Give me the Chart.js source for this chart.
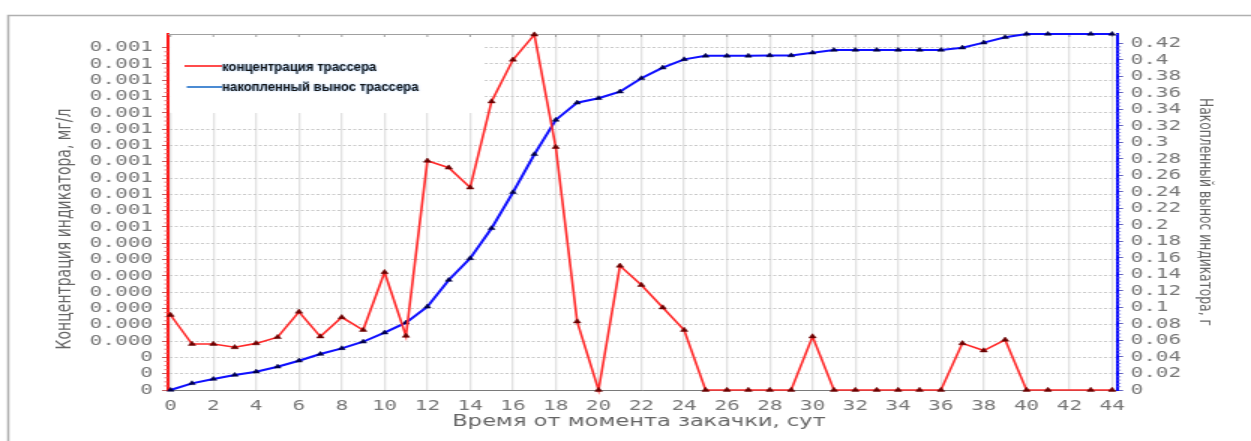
<!DOCTYPE html>
<html>
<head>
<meta charset="utf-8">
<script src="https://cdn.jsdelivr.net/npm/chart.js@4.4.1/dist/chart.umd.min.js"></script>
<style>
  html, body { margin: 0; padding: 0; background: #fff; overflow: hidden; }
  /* the picture is stretched sideways, so draw narrow and widen it */
  #wrap { width: 834px; height: 441px; transform: scaleX(1.5); transform-origin: 0 0; }
</style>
</head>
<body>
<div id="wrap"><canvas id="line-chart" width="834" height="441"></canvas></div>
<script>
// days since injection (no reading on day 42)
var days = [0,1,2,3,4,5,6,7,8,9,10,11,12,13,14,15,16,17,18,19,20,21,22,23,24,25,26,27,28,29,30,31,32,33,34,35,36,37,38,39,40,41,43,44];

// tracer concentration, mg/l
var concentration = [0.00023,0.000141,0.000141,0.000131,0.000143,0.000162,0.00024,0.000164,0.000223,0.000184,
  0.000361,0.000166,0.000703,0.000682,0.000621,0.000885,0.001013,0.00109,0.000745,0.00021,
  0,0.000381,0.000322,0.000253,0.000184,0,0,0,0,0,
  0.000164,0,0,0,0,0,0,0.000143,0.000121,0.000154,
  0,0,0,0];

// cumulative tracer removal, g
var removal = [0,0.0081,0.0133,0.0182,0.0222,0.0282,0.0355,0.0436,0.0505,0.0585,
  0.0695,0.0816,0.101,0.1333,0.1596,0.196,0.2396,0.2857,0.3273,0.3482,
  0.3536,0.3616,0.3778,0.3907,0.4008,0.405,0.405,0.405,0.4055,0.4055,
  0.4088,0.4121,0.4121,0.4121,0.4121,0.4121,0.4121,0.4149,0.421,0.4275,
  0.4315,0.4315,0.4315,0.4315];

var xTicks = [0,2,4,6,8,10,12,14,16,18,20,22,24,26,28,30,32,34,36,38,40,42,44];

var leftTickValues = [0,0.00005,0.0001,0.00015,0.0002,0.00025,0.0003,0.00035,0.0004,0.00045,0.0005,
  0.00055,0.0006,0.00065,0.0007,0.00075,0.0008,0.00085,0.0009,0.00095,0.001,0.00105];
var leftTickLabels = ['0','0','0','0.000','0.000','0.000','0.000','0.000','0.000','0.000','0.001',
  '0.001','0.001','0.001','0.001','0.001','0.001','0.001','0.001','0.001','0.001','0.001'];

var rightTickValues = [0,0.02,0.04,0.06,0.08,0.1,0.12,0.14,0.16,0.18,0.2,0.22,0.24,0.26,0.28,0.3,0.32,0.34,0.36,0.38,0.4,0.42];
var rightTickLabels = ['0','0.02','0.04','0.06','0.08','0.1','0.12','0.14','0.16','0.18','0.2','0.22','0.24','0.26','0.28','0.3','0.32','0.34','0.36','0.38','0.4','0.42'];

var seriesNames = ['концентрация трассера', 'накопленный вынос трассера'];
var xTitle = 'Время от момента закачки, сут';
var leftTitle = 'Концентрация индикатора, мг/л';
var rightTitle = 'Накопленный вынос индикатора, г';

var tickFont = { family: 'DejaVu Sans Mono', size: 14 };

function points(values) {
  return days.map(function(d, i) { return { x: d, y: values[i] }; });
}

function fitText(ctx, text, x, y, width) {
  var w = ctx.measureText(text).width;
  ctx.save();
  ctx.translate(x, y);
  ctx.scale(width / w, 1);
  ctx.fillText(text, 0, 0);
  ctx.restore();
}

var decor = {
  id: 'decor',
  beforeDraw: function(chart) {
    var ctx = chart.ctx;
    ctx.save();
    ctx.fillStyle = '#fff';
    ctx.fillRect(0, 0, chart.width, chart.height);
    ctx.strokeStyle = '#b0b0b0';
    ctx.lineWidth = 1.5;
    ctx.strokeRect(5.5, 15.5, chart.width + 20, chart.height + 20);
    ctx.restore();
  },
  beforeDatasetsDraw: function(chart) {
    var ctx = chart.ctx, a = chart.chartArea;
    var sx = chart.scales.x, sy = chart.scales.y, sy1 = chart.scales.y1;
    ctx.save();
    // legend panel hides the grid
    ctx.fillStyle = '#fff';
    ctx.fillRect(a.left + 1.2, a.top, 322 - a.left, 79);

    // top frame and its ticks
    ctx.strokeStyle = '#a0a0a0';
    ctx.lineWidth = 1;
    ctx.beginPath();
    ctx.moveTo(a.left, a.top + 0.5);
    ctx.lineTo(a.right, a.top + 0.5);
    xTicks.forEach(function(v) {
      var px = sx.getPixelForValue(v);
      ctx.moveTo(px, a.top);
      ctx.lineTo(px, a.top + 3);
    });
    ctx.stroke();

    // minor ticks on both value axes
    ctx.lineWidth = 0.8;
    ctx.strokeStyle = '#e06060';
    ctx.beginPath();
    for (var i = 0; i < 21 * 4; i++) {
      if (i % 4 == 0) continue;
      var py = sy.getPixelForValue(i * 0.0000125);
      ctx.moveTo(a.left - 2.5, py);
      ctx.lineTo(a.left, py);
    }
    ctx.stroke();
    ctx.strokeStyle = '#6060e0';
    ctx.beginPath();
    for (var j = 0; j < 21 * 5; j++) {
      if (j % 5 == 0) continue;
      var py1 = sy1.getPixelForValue(j * 0.004);
      ctx.moveTo(a.right, py1);
      ctx.lineTo(a.right + 2.5, py1);
    }
    ctx.stroke();

    // legend
    ctx.lineWidth = 1.6;
    ctx.strokeStyle = '#ff2020';
    ctx.beginPath(); ctx.moveTo(123, 66); ctx.lineTo(148, 66); ctx.stroke();
    ctx.strokeStyle = '#1e6ec8';
    ctx.beginPath(); ctx.moveTo(124.5, 87); ctx.lineTo(148, 87); ctx.stroke();
    ctx.font = 'bold 13px "Liberation Sans"';
    ctx.fillStyle = '#141414';
    ctx.textBaseline = 'middle';
    ctx.shadowColor = 'rgba(40,140,255,0.55)';
    ctx.shadowBlur = 1.5;
    fitText(ctx, seriesNames[0], 148, 67, 103);
    fitText(ctx, seriesNames[1], 148, 87, 131);
    ctx.restore();
  },
  afterDraw: function(chart) {
    var ctx = chart.ctx;
    ctx.save();
    ctx.fillStyle = '#666';
    ctx.textAlign = 'center';
    ctx.textBaseline = 'middle';
    ctx.font = '15px "DejaVu Sans"';
    ctx.fillText(xTitle, 426, 422);

    ctx.save();
    ctx.font = '14px "DejaVu Sans"';
    ctx.translate(43, 229);
    ctx.rotate(-Math.PI / 2);
    ctx.fillText(leftTitle, 0, 0);
    ctx.restore();

    ctx.save();
    ctx.font = '12.3px "DejaVu Sans"';
    ctx.translate(803, 212);
    ctx.rotate(Math.PI / 2);
    ctx.fillText(rightTitle, 0, 0);
    ctx.restore();
    ctx.restore();
  }
};

var myChart = new Chart(document.getElementById('line-chart'), {
  type: 'line',
  data: {
    datasets: [{
      label: seriesNames[0],
      data: points(concentration),
      yAxisID: 'y',
      borderColor: '#ff2a2a',
      borderWidth: 1.6,
      pointStyle: 'triangle',
      pointRadius: 2.8,
      pointBackgroundColor: '#6a0000',
      pointBorderColor: '#6a0000',
      pointBorderWidth: 0.5,
      fill: false,
      clip: false
    }, {
      label: seriesNames[1],
      data: points(removal),
      yAxisID: 'y1',
      borderColor: '#1010ff',
      borderWidth: 2,
      pointStyle: 'triangle',
      pointRadius: 2.6,
      pointBackgroundColor: '#00004a',
      pointBorderColor: '#00004a',
      pointBorderWidth: 0.5,
      fill: false,
      clip: false
    }]
  },
  options: {
    responsive: false,
    animation: false,
    devicePixelRatio: 1,
    layout: { padding: { top: 34, left: 0, right: 0, bottom: 0 } },
    plugins: {
      legend: { display: false },
      tooltip: { enabled: false }
    },
    scales: {
      x: {
        type: 'linear',
        position: 'bottom',
        min: -0.12,
        max: 44.23,
        afterBuildTicks: function(axis) {
          axis.ticks = xTicks.map(function(v) { return { value: v }; });
        },
        afterFit: function(axis) { axis.height = 51; },
        grid: { color: '#e2e2e2', lineWidth: 1.3, drawTicks: false },
        border: { display: true, color: '#7a7a7a', width: 1 },
        ticks: {
          font: tickFont,
          color: '#777',
          padding: 8,
          maxRotation: 0,
          autoSkip: false,
          callback: function(value) { return String(value); }
        }
      },
      y: {
        position: 'left',
        min: 0,
        max: 0.001092,
        afterBuildTicks: function(axis) {
          axis.ticks = leftTickValues.map(function(v) { return { value: v }; });
        },
        afterFit: function(axis) { axis.width = 112; },
        grid: { color: '#cacaca', lineWidth: 1, tickLength: 4, tickColor: '#c06060' },
        border: { display: true, color: '#ff1a1a', width: 2, dash: [2, 1.5] },
        ticks: {
          font: tickFont,
          color: '#777',
          padding: 6,
          autoSkip: false,
          callback: function(value, index) { return leftTickLabels[index]; }
        }
      },
      y1: {
        position: 'right',
        min: 0,
        max: 0.4315,
        afterBuildTicks: function(axis) {
          axis.ticks = rightTickValues.map(function(v) { return { value: v }; });
        },
        afterFit: function(axis) { axis.width = 89.3; },
        grid: { drawOnChartArea: false, tickLength: 4, tickColor: '#6060c0' },
        border: { display: true, color: '#0a0aff', width: 2 },
        ticks: {
          font: tickFont,
          color: '#777',
          padding: 5,
          autoSkip: false,
          callback: function(value, index) { return rightTickLabels[index]; }
        }
      }
    }
  },
  plugins: [decor]
});
</script>
</body>
</html>
